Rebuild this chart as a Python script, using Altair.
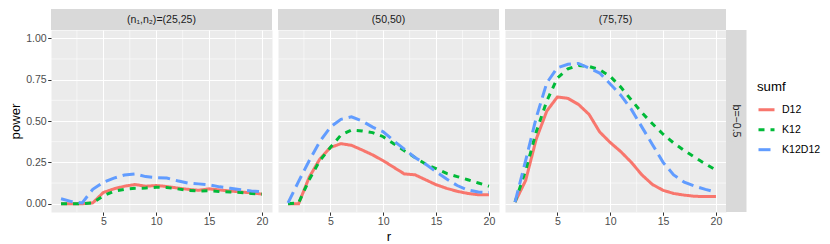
import altair as alt
import pandas as pd

r = list(range(1, 21))
series = ["D12", "K12", "K12D12"]
colors = ["#F8766D", "#00BA38", "#619CFF"]
dashes = [[1, 0], [6, 6], [12, 6]]
panel_labels = ["(n\u2081,n\u2082)=(25,25)", "(50,50)", "(75,75)"]
row_label = "b=\u22120.5"

x_breaks = [5, 10, 15, 20]
x_minor = [2.5, 7.5, 12.5, 17.5]
y_breaks = [0, 0.25, 0.5, 0.75, 1.0]
y_minor = [0.125, 0.375, 0.625, 0.875]

# panel 1: (25,25)
p1_D12 = [0.0, 0.0, 0.0, 0.005, 0.068, 0.09, 0.106, 0.116, 0.106, 0.11,
          0.104, 0.095, 0.087, 0.081, 0.09, 0.083, 0.077, 0.071, 0.066, 0.058]
p1_K12 = [0.0, 0.0, 0.0, 0.005, 0.048, 0.075, 0.087, 0.093, 0.095, 0.1,
          0.098, 0.09, 0.081, 0.077, 0.079, 0.073, 0.071, 0.068, 0.062, 0.058]
p1_K12D12 = [0.03, 0.013, 0.005, 0.087, 0.13, 0.155, 0.174, 0.18, 0.164, 0.158,
             0.155, 0.139, 0.125, 0.12, 0.114, 0.102, 0.093, 0.085, 0.077, 0.073]
# panel 2: (50,50)
p2_D12 = [0.0, 0.0, 0.16, 0.27, 0.34, 0.363, 0.353, 0.325, 0.295, 0.26,
          0.22, 0.18, 0.175, 0.145, 0.115, 0.093, 0.075, 0.062, 0.054, 0.054]
p2_K12 = [0.0, 0.005, 0.145, 0.26, 0.34, 0.415, 0.445, 0.44, 0.43, 0.405,
          0.363, 0.32, 0.28, 0.24, 0.212, 0.183, 0.164, 0.145, 0.125, 0.106]
p2_K12D12 = [0.005, 0.135, 0.26, 0.375, 0.463, 0.51, 0.525, 0.5, 0.463, 0.435,
             0.38, 0.33, 0.28, 0.24, 0.193, 0.149, 0.11, 0.083, 0.071, 0.068]
# panel 3: (75,75)
p3_D12 = [0.01, 0.14, 0.39, 0.56, 0.645, 0.637, 0.6, 0.54, 0.434, 0.37,
          0.315, 0.25, 0.174, 0.116, 0.081, 0.062, 0.052, 0.045, 0.043, 0.043]
p3_K12 = [0.01, 0.2, 0.434, 0.62, 0.76, 0.815, 0.836, 0.83, 0.81, 0.77,
          0.705, 0.627, 0.55, 0.483, 0.42, 0.367, 0.322, 0.28, 0.241, 0.203]
p3_K12D12 = [0.01, 0.26, 0.52, 0.73, 0.822, 0.843, 0.848, 0.82, 0.79, 0.724,
             0.656, 0.57, 0.463, 0.357, 0.25, 0.174, 0.13, 0.106, 0.087, 0.071]

panel_values = [
    [p1_D12, p1_K12, p1_K12D12],
    [p2_D12, p2_K12, p2_K12D12],
    [p3_D12, p3_K12, p3_K12D12],
]

W = 221
H = 182
STRIP = 21
RSTRIP = 20.5
FONT = "Liberation Sans"

x_scale = alt.Scale(domain=[0.05, 20.95], nice=False, zero=False)
y_scale = alt.Scale(domain=[-0.05, 1.05], nice=False, zero=False)

legend = alt.Legend(
    title="sumf", symbolType="stroke", symbolStrokeWidth=3, symbolSize=256,
    orient="none", legendX=706, legendY=51,
)


def make_panel(i):
    rows = []
    for s, vals in zip(series, panel_values[i]):
        for rv, pv in zip(r, vals):
            rows.append({"r": rv, "power": pv, "sumf": s})
    df = pd.DataFrame(rows)

    xaxis = alt.Axis(values=x_breaks, title="r" if i == 1 else None, grid=True,
                     labelFlush=False)
    if i == 0:
        yaxis = alt.Axis(values=y_breaks, format=".2f", title="power", grid=True)
    else:
        yaxis = alt.Axis(values=y_breaks, labels=False, ticks=False, title=None,
                         grid=True)

    minx = alt.Chart(pd.DataFrame({"r": x_minor})).mark_rule(
        color="white", strokeWidth=0.55
    ).encode(x=alt.X("r:Q", scale=x_scale, axis=xaxis))
    miny = alt.Chart(pd.DataFrame({"power": y_minor})).mark_rule(
        color="white", strokeWidth=0.55
    ).encode(y=alt.Y("power:Q", scale=y_scale, axis=yaxis))

    lines = alt.Chart(df).mark_line(strokeWidth=3, clip=False).encode(
        x=alt.X("r:Q", scale=x_scale, axis=xaxis),
        y=alt.Y("power:Q", scale=y_scale, axis=yaxis),
        color=alt.Color("sumf:N", scale=alt.Scale(domain=series, range=colors),
                        legend=legend),
        strokeDash=alt.StrokeDash("sumf:N",
                                  scale=alt.Scale(domain=series, range=dashes),
                                  legend=legend),
    )

    lab = pd.DataFrame({"label": [panel_labels[i]]})
    strip_bg = alt.Chart(lab).mark_rect(color="#D9D9D9").encode(
        x=alt.value(0), x2=alt.value(W), y=alt.value(-STRIP), y2=alt.value(0)
    )
    strip_tx = alt.Chart(lab).mark_text(
        font=FONT, fontSize=10.56, color="#1A1A1A", baseline="middle", align="center"
    ).encode(x=alt.value(W / 2), y=alt.value(-STRIP / 2 + 0.5), text="label:N")

    layers = [miny, minx, lines, strip_bg, strip_tx]
    if i == 2:
        rl = pd.DataFrame({"label": [row_label]})
        rbg = alt.Chart(rl).mark_rect(color="#D9D9D9").encode(
            x=alt.value(W), x2=alt.value(W + RSTRIP), y=alt.value(0), y2=alt.value(H)
        )
        rtx = alt.Chart(rl).mark_text(
            font=FONT, fontSize=10.56, color="#1A1A1A", angle=90,
            baseline="middle", align="center"
        ).encode(x=alt.value(W + RSTRIP / 2), y=alt.value(H / 2), text="label:N")
        layers += [rbg, rtx]
    return alt.layer(*layers).properties(width=W, height=H)


chart = alt.hconcat(
    make_panel(0), make_panel(1), make_panel(2), spacing=6, bounds="flush"
).properties(
    padding=0, background="white"
).configure_view(
    fill="#EBEBEB", stroke="transparent"
).configure_axis(
    domain=False, tickColor="#333333", tickSize=3.3, tickWidth=1,
    labelColor="#4D4D4D", labelFont=FONT, labelFontSize=10.56, labelPadding=1.5,
    titleFont=FONT, titleFontSize=13.2, titleFontWeight="normal", titleColor="black",
    gridColor="white", gridWidth=1.1,
).configure_axisY(
    titlePadding=3
).configure_axisX(
    titlePadding=3
).configure_legend(
    titleFont=FONT, titleFontSize=13.2, titleFontWeight="normal", titleColor="black",
    labelFont=FONT, labelFontSize=10.56, labelColor="black", labelOffset=6,
    rowPadding=4, titlePadding=6, padding=0,
)

chart.save("out.html", embed_options={"renderer": "svg", "actions": False})
